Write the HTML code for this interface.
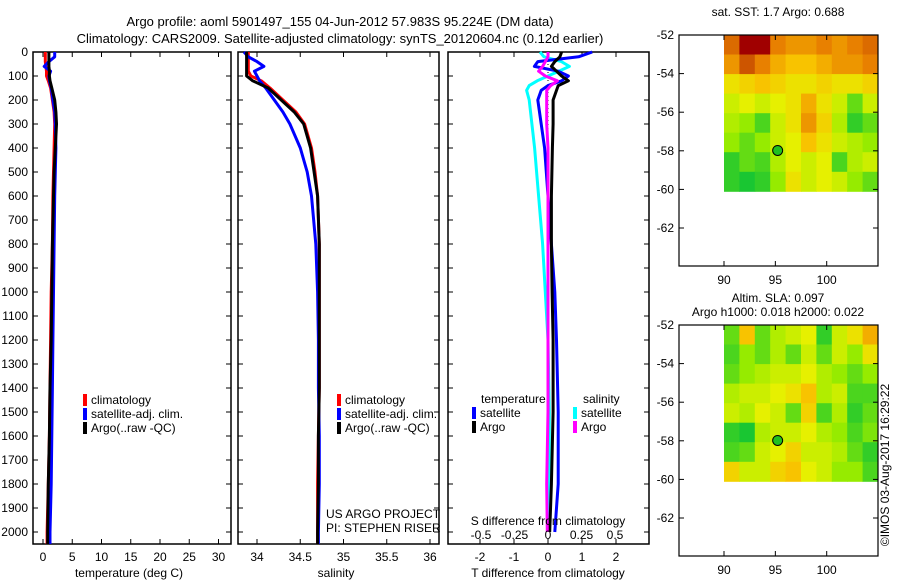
<!DOCTYPE html>
<html><head><meta charset="utf-8"><style>
html,body{margin:0;padding:0;background:#fff}
svg{display:block;font-family:"Liberation Sans",sans-serif;font-size:12px}
</style></head><body>
<svg id="c" width="900" height="580" viewBox="0 0 900 580"></svg>
<script>
// ---- data ----
const tDepth=[0,20,40,60,80,100,120,150,200,250,300,400,500,600,800,1000,1200,1400,1600,1800,2000,2050];
const tClim=[0.4,0.4,0.4,0.5,0.6,0.6,0.9,1.3,1.6,1.9,2.0,1.9,1.8,1.7,1.6,1.4,1.3,1.2,1.1,0.9,0.7,0.7];
const tArgo=[1.0,1.0,1.0,1.0,1.1,1.1,1.2,1.5,2.0,2.2,2.3,2.1,1.9,1.8,1.6,1.5,1.4,1.2,1.1,0.9,0.8,0.8];
const tSat=[2.0,2.0,1.0,0.2,1.3,1.0,1.1,1.4,1.7,2.0,2.1,2.2,2.1,2.0,1.9,1.8,1.7,1.6,1.5,1.4,1.2,1.2];
const sClim=[33.9,33.9,33.9,33.9,33.9,33.93,34.05,34.15,34.3,34.45,34.55,34.63,34.67,34.7,34.72,34.72,34.72,34.72,34.71,34.7,34.7,34.7];
const sArgo=[33.88,33.88,33.88,33.88,33.88,33.88,33.95,34.13,34.28,34.43,34.54,34.62,34.66,34.7,34.72,34.72,34.72,34.72,34.71,34.71,34.7,34.7];
const sSat=[33.85,33.9,34.0,34.08,33.97,34.0,34.03,34.1,34.2,34.3,34.38,34.5,34.58,34.63,34.68,34.7,34.71,34.71,34.72,34.72,34.71,34.71];
const dDepth=[0,20,40,60,80,100,120,140,160,200,300,400,600,800,1000,1200,1500,1800,2000];
const dTSat=[1.3,0.9,-0.3,-0.4,0.3,0.6,0.4,0.0,-0.2,-0.3,-0.2,-0.1,0.0,0.1,0.2,0.25,0.3,0.3,0.2];
const dTArgo=[0.4,0.35,0.2,0.1,0.25,0.4,0.6,0.3,0.25,0.15,0.15,0.13,0.1,0.1,0.12,0.15,0.15,0.1,0.05];
const dSSat=[-0.06,-0.03,0.1,0.16,0.08,0.0,-0.08,-0.14,-0.16,-0.14,-0.12,-0.1,-0.07,-0.04,-0.02,0.0,0.01,0.01,0.01];
const dSArgo=[0,0,-0.02,-0.04,-0.07,-0.02,0.07,0.02,-0.01,-0.01,-0.01,0,0,0,0,0,0,-0.01,-0.005];
const depthTicks=[0,100,200,300,400,500,600,700,800,900,1000,1100,1200,1300,1400,1500,1600,1700,1800,1900,2000];
const tempTicks=[0,5,10,15,20,25,30];
const salTicks=[34,34.5,35,35.5,36];
const tdTicks=[-2,-1,0,1,2];
const sdTicks=[-0.5,-0.25,0,0.25,0.5];
const latTicks=[-52,-54,-56,-58,-60,-62];
const lonTicks=[90,95,100];
const sstGrid=[
[0.8,1,1,0.75,0.7,0.7,0.75,0.7,0.75,0.8],
[0.7,0.85,0.75,0.65,0.6,0.6,0.65,0.7,0.7,0.75],
[0.5,0.55,0.6,0.55,0.5,0.5,0.55,0.5,0.5,0.55],
[0.4,0.45,0.4,0.45,0.5,0.65,0.5,0.4,0.2,0.4],
[0.35,0.3,0.15,0.4,0.5,0.7,0.55,0.35,0.1,0.2],
[0.3,0.2,0.3,0.4,0.45,0.6,0.5,0.4,0.35,0.3],
[0.1,0.2,0.15,0.35,0.45,0.4,0.45,0.15,0.35,0.4],
[0.1,0.05,0.1,0.3,0.5,0.4,0.45,0.4,0.3,0.2]];
const slaGrid=[
[0.2,0.6,0.2,0.35,0.4,0.45,0.1,0.4,0.5,0.65],
[0.15,0.3,0.2,0.35,0.2,0.4,0.2,0.4,0.3,0.5],
[0.2,0.3,0.35,0.4,0.4,0.45,0.35,0.3,0.2,0.3],
[0.35,0.4,0.4,0.45,0.5,0.6,0.35,0.4,0.15,0.15],
[0.4,0.35,0.45,0.4,0.2,0.55,0.15,0.35,0.1,0.2],
[0.1,0.05,0.35,0.4,0.4,0.45,0.35,0.3,0.15,0.25],
[0.15,0.2,0.4,0.45,0.55,0.4,0.4,0.35,0.2,0.1],
[0.55,0.4,0.4,0.55,0.6,0.45,0.4,0.3,0.3,0.15]];
const floatLon=95.224, floatLat=-57.983;

const NS="http://www.w3.org/2000/svg", svg=document.getElementById('c');
function el(tag,attrs,parent){const e=document.createElementNS(NS,tag);for(const k in attrs)e.setAttribute(k,attrs[k]);(parent||svg).appendChild(e);return e;}
function txt(x,y,s,anchor,name,extra){const t=el('text',Object.assign({x:x,y:y,'text-anchor':anchor||'start',fill:'#000'},extra||{}));t.textContent=s;


return t;}
const Y=d=>52+d*0.24;
function line(x1,y1,x2,y2,name,w){const l=el('line',{x1,y1,x2,y2,stroke:'#000','stroke-width':w||1});

}
function path(depths,vals,X,color,name,w){let d='';depths.forEach((dp,i)=>{d+=(i?'L':'M')+X(vals[i]).toFixed(1)+','+Y(dp).toFixed(1);});
const p=el('path',{d:d,fill:'none',stroke:color,'stroke-width':w||3,'stroke-linejoin':'round'});

}

txt(340,26,'Argo profile: aoml 5901497_155 04-Jun-2012 57.983S 95.224E (DM data)','middle','title-line-1',{'font-size':'13'});
txt(340,43,'Climatology: CARS2009. Satellite-adjusted climatology: synTS_20120604.nc (0.12d earlier)','middle','title-line-2',{'font-size':'13'});

function frame(x0,x1,name){const r=el('rect',{x:x0,y:52,width:x1-x0,height:492,fill:'none',stroke:'#000','stroke-width':1.5});


depthTicks.forEach(d=>{line(x0,Y(d),x0+5,Y(d),'y-tick');line(x1-5,Y(d),x1,Y(d),'y-tick');});}
// panel 1
const XT=v=>43+v*5.85;
frame(33,231,'temperature-panel');
depthTicks.forEach(d=>txt(28,Y(d)+4,String(d),'end','depth-tick-label'));
tempTicks.forEach(v=>{line(XT(v),52,XT(v),57,'x-tick');line(XT(v),539,XT(v),544,'x-tick');txt(XT(v),561,String(v),'middle','temp-tick-label');});
txt(129,577,'temperature (deg C)','middle','temperature-axis-title');
path(tDepth,tClim,XT,'#f00','temp-climatology-line');
path(tDepth,tSat,XT,'#00f','temp-satellite-line');
path(tDepth,tArgo,XT,'#000','temp-argo-line');
function legend(x,y,items,prefix){items.forEach((it,i)=>{const r=el('rect',{x:x,y:y+i*14-10,width:4,height:12,fill:it[1]});


txt(x+8,y+i*14,it[0],'start',prefix+'-label');});}
legend(83,404,[['climatology','#f00'],['satellite-adj. clim.','#00f'],['Argo(..raw -QC)','#000']],'temp-legend');
// panel 2
const XS=v=>257+(v-34)*86.5;
frame(238,439,'salinity-panel');
salTicks.forEach(v=>{line(XS(v),52,XS(v),57,'x-tick');line(XS(v),539,XS(v),544,'x-tick');txt(XS(v),561,String(v),'middle','salinity-tick-label');});
txt(336,577,'salinity','middle','salinity-axis-title');
path(tDepth,sClim,XS,'#f00','sal-climatology-line');
path(tDepth,sSat,XS,'#00f','sal-satellite-line');
path(tDepth,sArgo,XS,'#000','sal-argo-line');
legend(337,404,[['climatology','#f00'],['satellite-adj. clim.','#00f'],['Argo(..raw -QC)','#000']],'sal-legend');
txt(326,518,'US ARGO PROJECT','start','project-label');
txt(326,532,'PI: STEPHEN RISER','start','pi-label');
// panel 3
const XD=v=>548+v*34, XSD=v=>548+v*134;
frame(448,649,'difference-panel');
tdTicks.forEach(v=>{line(XD(v),52,XD(v),57,'x-tick');line(XD(v),539,XD(v),544,'x-tick');txt(XD(v),561,String(v),'middle','tdiff-tick-label');});
const z=el('line',{x1:548,y1:52,x2:548,y2:300,stroke:'#000','stroke-width':1,'stroke-dasharray':'1,3'});


path(dDepth,dSSat,XSD,'#0ff','sdiff-satellite-line');
path(dDepth,dTSat,XD,'#00f','tdiff-satellite-line');
path(dDepth,dTArgo,XD,'#000','tdiff-argo-line');
path(dDepth,dSArgo,XSD,'#f0f','sdiff-argo-line');
sdTicks.forEach(v=>txt(XSD(v),539,String(v),'middle','sdiff-tick-label'));
txt(548,525,'S difference from climatology','middle','sdiff-axis-title');
txt(548,577,'T difference from climatology','middle','tdiff-axis-title');
txt(481,403,'temperature','start','tdiff-legend-title');
txt(583,403,'salinity','start','sdiff-legend-title');
legend(472,417,[['satellite','#00f'],['Argo','#000']],'tdiff-legend');
legend(573,417,[['satellite','#0ff'],['Argo','#f0f']],'sdiff-legend');
// maps
const stops=[[0,[0,190,60]],[0.3,[150,235,0]],[0.45,[230,240,0]],[0.6,[248,195,0]],[0.75,[232,128,0]],[0.9,[192,64,0]],[1,[160,0,0]]];
function cmap(v){for(let i=1;i<stops.length;i++){if(v<=stops[i][0]){const a=stops[i-1],b=stops[i],t=(v-a[0])/(b[0]-a[0]);return 'rgb('+a[1].map((c,k)=>Math.round(c+(b[1][k]-c)*t)).join(',')+')';}}return 'rgb(160,0,0)';}
const LX=lon=>724+(lon-90)*10.27;
function map(top,grid,name,cellName){const LY=lat=>top+(-52-lat)*19.3;
const cw=(LX(105)-LX(90))/10, ch=(LY(-60.1)-LY(-52))/8;
grid.forEach((row,r)=>row.forEach((v,c)=>{const rc=el('rect',{x:(LX(90)+c*cw).toFixed(1),y:(top+r*ch).toFixed(1),width:(cw+0.5).toFixed(1),height:(ch+0.5).toFixed(1),fill:cmap(v)});

}));
const f=el('rect',{x:679,y:top,width:199,height:231,fill:'none',stroke:'#000','stroke-width':1.2});


latTicks.forEach(l=>{line(679,LY(l),684,LY(l),'lat-tick');line(873,LY(l),878,LY(l),'lat-tick');txt(674,LY(l)+4,String(l),'end','lat-tick-label');});
lonTicks.forEach(l=>{line(LX(l),top,LX(l),top+5,'lon-tick');line(LX(l),top+226,LX(l),top+231,'lon-tick');txt(LX(l),top+249,String(l),'middle','lon-tick-label');});
const m=el('circle',{cx:LX(floatLon),cy:LY(floatLat),r:5,fill:'#20c020',stroke:'#000','stroke-width':1});

}
map(35,sstGrid,'sst-map','sst-cell');
map(325,slaGrid,'sla-map','sla-cell');
txt(778,16,'sat. SST: 1.7 Argo: 0.688','middle','sst-map-title');
txt(778,302,'Altim. SLA: 0.097','middle','sla-map-title');
txt(778,316,'Argo h1000: 0.018 h2000: 0.022','middle','sla-map-subtitle');
txt(0,0,'©IMOS 03-Aug-2017 16:29:22','middle','credit-label',{transform:'translate(889,465) rotate(-90)'});
</script>
</body></html>
